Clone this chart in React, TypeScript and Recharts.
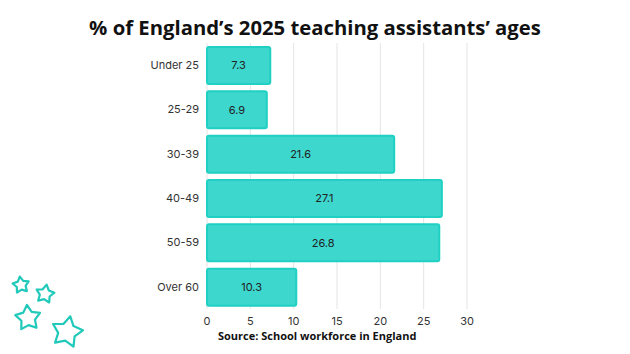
import React from 'react';
import {
  BarChart,
  Bar,
  XAxis,
  YAxis,
  CartesianGrid,
  LabelList,
} from 'recharts';

const ageGroups = ['Under 25', '25-29', '30-39', '40-49', '50-59', 'Over 60'];
const shares = [7.3, 6.9, 21.6, 27.1, 26.8, 10.3];
const xTicks = [0, 5, 10, 15, 20, 25, 30];

const data = ageGroups.map((group, i) => ({ group, value: shares[i] }));

const TEAL_FILL = '#3dd7ce';
const TEAL_STROKE = '#1fd0c3';
const FONT = 'Inter, "Open Sans", sans-serif';

// decorative outline star
const starPath = (cx: number, cy: number, r: number, rot: number) => {
  const pts: string[] = [];
  for (let i = 0; i < 10; i++) {
    const rad = i % 2 === 0 ? r : r * 0.55;
    const a = ((rot - 90 + i * 36) * Math.PI) / 180;
    pts.push(`${(cx + rad * Math.cos(a)).toFixed(1)},${(cy + rad * Math.sin(a)).toFixed(1)}`);
  }
  return `M${pts.join('L')}Z`;
};

const Stars = () => (
  <svg
    width={100}
    height={94}
    style={{ position: 'absolute', left: 0, top: 260 }}
  >
    <g fill="none" stroke="#20c9b9" strokeWidth={2.2} strokeLinejoin="round">
      <path d={starPath(21, 25, 8.5, -8)} />
      <path d={starPath(45, 34, 9.5, 10)} />
      <path d={starPath(28, 58, 13, -5)} />
      <path d={starPath(67, 72, 16, 12)} />
    </g>
  </svg>
);

const App: React.FC = () => (
  <div
    style={{
      position: 'fixed',
      left: 0,
      top: 0,
      width: 630,
      height: 354,
      background: '#fff',
      fontFamily: FONT,
    }}
  >
    <div
      style={{
        position: 'absolute',
        top: 13,
        left: 0,
        width: 630,
        textAlign: 'center',
        fontSize: 20.3,
        fontWeight: 700,
        color: '#111',
        fontFamily: '"Open Sans", sans-serif',
      }}
    >
      % of England’s 2025 teaching assistants’ ages
    </div>
    <BarChart
      width={630}
      height={354}
      data={data}
      layout="vertical"
      margin={{ top: 43, right: 163, bottom: 25, left: 145 }}
    >
      <CartesianGrid horizontal={false} stroke="#e4e4e4" />
      <XAxis
        type="number"
        domain={[0, 30]}
        ticks={xTicks}
        axisLine={false}
        tickLine={false}
        height={20}
        tick={{ fontSize: 11, fill: '#333', fontFamily: FONT }}
      />
      <YAxis
        type="category"
        dataKey="group"
        width={62}
        axisLine={false}
        tickLine={false}
        tick={{ fontSize: 11, fill: '#333', fontFamily: FONT }}
      />
      <Bar
        dataKey="value"
        fill={TEAL_FILL}
        stroke={TEAL_STROKE}
        strokeWidth={2}
        radius={2}
        barSize={37}
        isAnimationActive={false}
      >
        <LabelList
          dataKey="value"
          position="center"
          style={{ fontSize: 11, fill: '#222', fontFamily: FONT }}
        />
      </Bar>
    </BarChart>
    <div
      style={{
        position: 'absolute',
        top: 328,
        left: 218,
        fontSize: 11,
        fontWeight: 700,
        color: '#111',
        fontFamily: '"Open Sans", sans-serif',
      }}
    >
      Source: School workforce in England
    </div>
    <Stars />
  </div>
);

export default App;
